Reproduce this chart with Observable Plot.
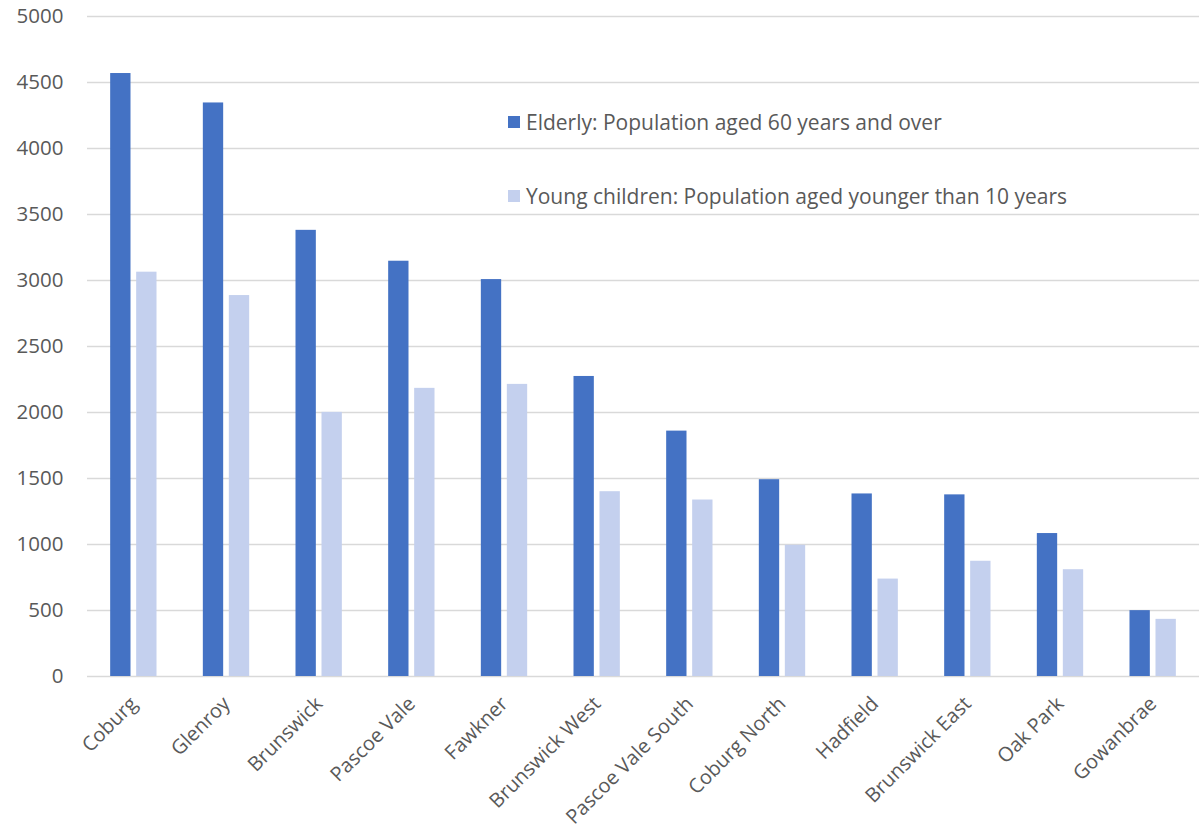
<!DOCTYPE html>
<html>
<head>
<meta charset="utf-8">
<script src="https://cdn.jsdelivr.net/npm/d3@7"></script>
<script src="https://cdn.jsdelivr.net/npm/@observablehq/plot@0.6"></script>
<style>
  html, body { margin: 0; padding: 0; background: #fff; }
  #wrap { position: relative; width: 1203px; height: 835px; font-family: "Open Sans", sans-serif; }
  .legend { position: absolute; left: 508px; color: #595959; font-size: 21px; line-height: 24px; height: 24px; display: flex; align-items: center; white-space: nowrap; }
  .legend .sw { width: 12px; height: 12px; margin-right: 6px; }
</style>
</head>
<body>
<div id="wrap"></div>
<script>
const suburbs = ["Coburg","Glenroy","Brunswick","Pascoe Vale","Fawkner","Brunswick West","Pascoe Vale South","Coburg North","Hadfield","Brunswick East","Oak Park","Gowanbrae"];
const elderly = [4568, 4345, 3380, 3146, 3007, 2273, 1859, 1491, 1383, 1376, 1083, 499];
const young   = [3063, 2886, 2001, 2183, 2213, 1400, 1337, 994, 738, 873, 809, 433];
const seriesNames = ["Elderly: Population aged 60 years and over", "Young children: Population aged younger than 10 years"];
const seriesColors = ["#4472C4", "#C4D0EE"];
const yTicks = [0, 500, 1000, 1500, 2000, 2500, 3000, 3500, 4000, 4500, 5000];

const rowsE = suburbs.map((s, i) => ({suburb: s, value: elderly[i], series: seriesNames[0]}));
const rowsY = suburbs.map((s, i) => ({suburb: s, value: young[i], series: seriesNames[1]}));

const W = 1203, H = 835;
const plot = Plot.plot({
  width: W,
  height: H,
  marginTop: 16,
  marginLeft: 87,
  marginRight: 4,
  marginBottom: 159,
  style: {fontFamily: "Open Sans, sans-serif", fontSize: "20px", color: "#595959", background: "#fff"},
  x: {domain: suburbs, paddingInner: 0.5, paddingOuter: 0.25, round: false, label: null},
  y: {domain: [0, 5000], label: null},
  color: {domain: seriesNames, range: seriesColors},
  marks: [
    Plot.ruleY(yTicks, {stroke: "#d9d9d9", strokeWidth: 1.5}),
    Plot.barY(rowsE, {x: "suburb", y: "value", fill: "series", insetRight: 26}),
    Plot.barY(rowsY, {x: "suburb", y: "value", fill: "series", insetLeft: 26}),
    Plot.axisY({ticks: yTicks, tickFormat: d3.format("d"), tickSize: 0, tickPadding: 24, label: null, fontSize: 20.5, fill: "#595959"}),
    Plot.axisX({tickSize: 0, tickPadding: 24, tickRotate: -45, label: null, fontSize: 20, fill: "#595959"})
  ]
});
const wrap = document.getElementById("wrap");
wrap.appendChild(plot);
const legendTops = [110, 184];
seriesNames.forEach((n, i) => {
  const d = document.createElement("div");
  d.className = "legend";
  d.style.top = legendTops[i] + "px";
  const sw = document.createElement("div");
  sw.className = "sw";
  sw.style.background = seriesColors[i];
  const t = document.createElement("span");
  t.textContent = n;
  d.appendChild(sw); d.appendChild(t);
  wrap.appendChild(d);
});
</script>
</body>
</html>
